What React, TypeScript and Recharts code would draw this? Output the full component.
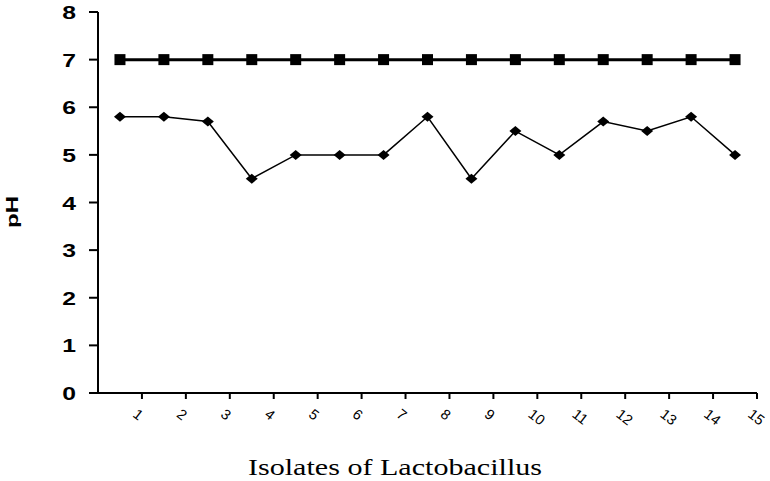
import { CartesianGrid, Line, LineChart, XAxis, YAxis } from 'recharts';

const isolates = [1, 2, 3, 4, 5, 6, 7, 8, 9, 10, 11, 12, 13, 14, 15];
const controlPH = [7, 7, 7, 7, 7, 7, 7, 7, 7, 7, 7, 7, 7, 7, 7];
const isolatePH = [5.8, 5.8, 5.7, 4.5, 5.0, 5.0, 5.0, 5.8, 4.5, 5.5, 5.0, 5.7, 5.5, 5.8, 5.0];
const phTicks = [0, 1, 2, 3, 4, 5, 6, 7, 8];

// each isolate sits in the middle of its band, tick labels on band edges
const rows = isolates.map((n, i) => ({
  pos: n - 0.5,
  control: controlPH[i],
  isolate: isolatePH[i],
}));

const XTick = (props: any) => {
  const { x, y, payload } = props;
  return (
    <g transform={`translate(${x},${y})`}>
      <text
        x={0}
        y={0}
        transform="translate(-10,15) rotate(38)"
        textAnchor="start"
        fontFamily="Arial, 'Liberation Sans', sans-serif"
        fontSize={14.5}
        fill="#000"
      >
        {payload.value}
      </text>
    </g>
  );
};

const YTick = (props: any) => {
  const { x, y, payload } = props;
  return (
    <g transform={`translate(${x},${y}) scale(1.3,1)`}>
      <text
        x={0}
        y={7}
        textAnchor="end"
        fontFamily="Arial, 'Liberation Sans', sans-serif"
        fontWeight="bold"
        fontSize={19}
        fill="#000"
      >
        {payload.value}
      </text>
    </g>
  );
};

const SquareDot = (props: any) => {
  const { cx, cy } = props;
  return <rect x={cx - 5.5} y={cy - 5.5} width={11} height={11} fill="#000" />;
};

const DiamondDot = (props: any) => {
  const { cx, cy } = props;
  return <path d={`M${cx - 6},${cy}L${cx},${cy - 5}L${cx + 6},${cy}L${cx},${cy + 5}Z`} fill="#000" />;
};

export default function App() {
  return (
    <div style={{ position: 'absolute', left: 0, top: 0, background: '#fff' }}>
      <LineChart width={770} height={481} data={rows} margin={{ top: 12, right: 13, bottom: 0, left: 0 }}>
        <CartesianGrid stroke="none" />
        <XAxis
          type="number"
          dataKey="pos"
          domain={[0, 15]}
          ticks={isolates}
          interval={0}
          height={88}
          stroke="#000"
          strokeWidth={2}
          tickSize={6}
          tick={<XTick />}
          label={{
            content: () => (
              <text
                x={395}
                y={475}
                textAnchor="middle"
                fontFamily="'Times New Roman', 'Liberation Serif', serif"
                fontSize={23}
                textLength={294}
                lengthAdjust="spacingAndGlyphs"
                fill="#000"
              >
                Isolates of Lactobacillus
              </text>
            ),
          }}
        />
        <YAxis
          type="number"
          domain={[0, 8]}
          ticks={phTicks}
          interval={0}
          width={98}
          stroke="#000"
          strokeWidth={2}
          tickSize={9}
          tickMargin={13}
          tick={<YTick />}
          label={{
            content: () => (
              <text
                transform="translate(18,212) rotate(-90)"
                x={0}
                y={0}
                textAnchor="middle"
                fontFamily="Arial, 'Liberation Sans', sans-serif"
                fontWeight="bold"
                fontSize={17}
                textLength={32}
                lengthAdjust="spacingAndGlyphs"
                fill="#000"
              >
                pH
              </text>
            ),
          }}
        />
        <Line
          dataKey="control"
          stroke="#000"
          strokeWidth={3}
          dot={<SquareDot />}
          activeDot={false}
          isAnimationActive={false}
        />
        <Line
          dataKey="isolate"
          stroke="#000"
          strokeWidth={1.5}
          dot={<DiamondDot />}
          activeDot={false}
          isAnimationActive={false}
        />
      </LineChart>
    </div>
  );
}
